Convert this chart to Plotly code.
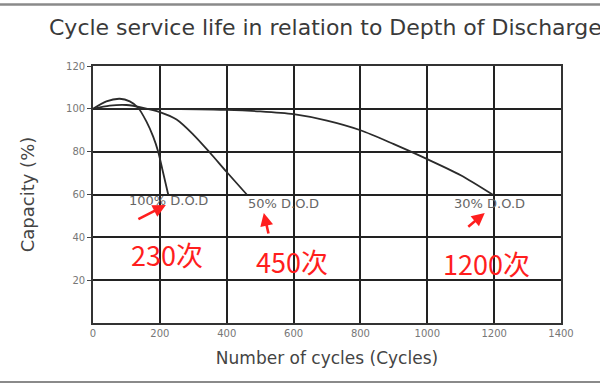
import plotly.graph_objects as go

# ---- data ----
x_100 = [0, 40, 80, 110, 135, 160, 180, 195, 210, 225]
y_100 = [100, 103.5, 104.7, 103.5, 100.5, 94, 87, 80, 70, 60]

x_50 = [0, 50, 100, 150, 200, 250, 300, 350, 400, 460]
y_50 = [100, 101.5, 101.8, 100.5, 98.5, 95, 88, 79.5, 70.5, 60]

x_30 = [0, 200, 400, 500, 600, 700, 800, 900, 1000, 1100, 1195]
y_30 = [100, 100, 99.5, 98.8, 97.5, 94.5, 90, 83.5, 76.5, 69, 60]

dod_labels = ["100% D.O.D", "50% D.O.D", "30% D.O.D"]
dod_label_x = [226, 570, 1186]
dod_label_y = [57.4, 56, 56]

cycle_labels = ["230次", "450次", "1200次"]
cycle_label_x = [222, 595, 1176]
cycle_label_y = [32.2, 28.5, 28.0]

arrow_head_x = [218, 511, 1172]
arrow_head_y = [55.1, 51.4, 51.4]
arrow_ax = [-29, 5, -18]
arrow_ay = [15, 22, 15]

x_ticks = [0, 200, 400, 600, 800, 1000, 1200, 1400]
y_ticks = [20, 40, 60, 80, 100, 120]

title_text = "Cycle service life in relation to Depth of Discharge"
x_title = "Number of cycles (Cycles)"
y_title = "Capacity (%)"

W, H = 600, 387

# ---- figure ----
line_style = dict(color="#2b2b2b", width=1.8, shape="spline", smoothing=0.8)
fig = go.Figure()
for xs, ys, nm in [(x_100, y_100, dod_labels[0]), (x_50, y_50, dod_labels[1]), (x_30, y_30, dod_labels[2])]:
    fig.add_trace(go.Scatter(x=xs, y=ys, mode="lines", line=line_style, name=nm, showlegend=False,
                             hoverinfo="skip"))

annotations = []
for t, x, y in zip(dod_labels, dod_label_x, dod_label_y):
    annotations.append(dict(x=x, y=y, text=t, showarrow=False, xanchor="center", yanchor="middle",
                            font=dict(family="DejaVu Sans", size=13, color="#666666")))
for t, x, y in zip(cycle_labels, cycle_label_x, cycle_label_y):
    annotations.append(dict(x=x, y=y, text=t, showarrow=False, xanchor="center", yanchor="middle",
                            font=dict(family="Noto Sans CJK SC", size=27, color="rgb(255,30,30)")))
for x, y, ax, ay in zip(arrow_head_x, arrow_head_y, arrow_ax, arrow_ay):
    annotations.append(dict(x=x, y=y, ax=ax, ay=ay, text="", showarrow=True, arrowhead=2,
                            arrowsize=1, arrowwidth=2.6, arrowcolor="rgb(255,30,30)"))

# title as left-anchored annotation (runs off the right edge like the reference)
annotations.append(dict(xref="paper", yref="paper", x=47 / W, y=1 - 28 / H,
                        text=title_text, showarrow=False, xanchor="left", yanchor="middle",
                        font=dict(family="DejaVu Sans", size=22, color="#3a3a3a")))

# top & bottom border lines of the image
shapes = [
    dict(type="line", xref="paper", yref="paper", x0=0, x1=1, y0=1 - 4.5 / H, y1=1 - 4.5 / H,
         line=dict(color="#8a8a8a", width=2.5)),
    dict(type="line", xref="paper", yref="paper", x0=0, x1=1, y0=1 - 382 / H, y1=1 - 382 / H,
         line=dict(color="#8a8a8a", width=2)),
]

fig.update_layout(
    width=W, height=H,
    margin=dict(l=0, r=0, t=0, b=0, autoexpand=False),
    paper_bgcolor="white", plot_bgcolor="white",
    annotations=annotations, shapes=shapes,
    xaxis=dict(domain=[93 / W, 561 / W], range=[0, 1400], tickvals=x_ticks, ticktext=[str(v) for v in x_ticks],
               showgrid=True, gridcolor="#222222", gridwidth=1.6,
               showline=True, linecolor="#333333", linewidth=1.6, mirror=True,
               zeroline=False, ticks="", fixedrange=True,
               tickfont=dict(family="DejaVu Sans", size=10, color="#777777"),
               title=dict(text=x_title, font=dict(family="DejaVu Sans", size=17, color="#444444"), standoff=14)),
    yaxis=dict(domain=[1 - 323 / H, 1 - 66 / H], range=[0, 120], tickvals=y_ticks,
               ticktext=[str(v) for v in y_ticks],
               showgrid=True, gridcolor="#222222", gridwidth=1.6,
               showline=True, linecolor="#333333", linewidth=1.6, mirror=True,
               zeroline=False, ticks="outside", ticklen=4, tickcolor="#444444", fixedrange=True,
               tickfont=dict(family="DejaVu Sans", size=10, color="#777777"),
               title=dict(text=y_title, font=dict(family="DejaVu Sans", size=18, color="#444444"), standoff=27)),
)

fig.write_html("out.html", config={"displayModeBar": False},
               post_script="document.body.style.margin='0px';")
